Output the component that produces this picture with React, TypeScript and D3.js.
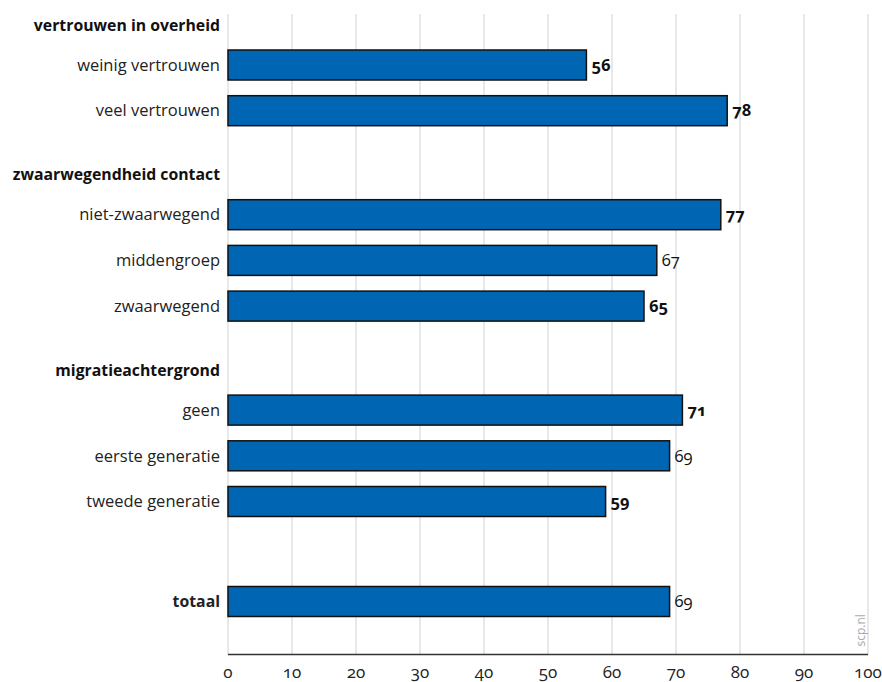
import React from "react";
import * as d3 from "d3";

const groupHeaders = ["vertrouwen in overheid", "zwaarwegendheid contact", "migratieachtergrond"];
const groupItems = [
  ["weinig vertrouwen", "veel vertrouwen"],
  ["niet-zwaarwegend", "middengroep", "zwaarwegend"],
  ["geen", "eerste generatie", "tweede generatie"],
];
const groupValues = [
  [56, 78],
  [77, 67, 65],
  [71, 69, 59],
];
const groupBold = [
  [true, true],
  [true, false, true],
  [true, false, true],
];
const totalLabel = "totaal";
const totalValue = 69;
const totalBold = false;
const xTicks = [0, 10, 20, 30, 40, 50, 60, 70, 80, 90, 100];

type Row = { kind: "header" | "bar"; label: string; value?: number; bold?: boolean; strong?: boolean; y: number };

export default function App() {
  const W = 882, H = 682;
  const left = 228, right = 868, top = 14;
  const x = d3.scaleLinear().domain([0, 100]).range([left, right]);

  const pitch = 45.7;
  const barH = 30;
  const rows: Row[] = [];
  let lastBar = 0;
  groupHeaders.forEach((h, gi) => {
    const hy = gi === 0 ? top + 11 : lastBar + 64;
    rows.push({ kind: "header", label: h, y: hy });
    let by = hy + 40;
    groupItems[gi].forEach((lab, i) => {
      rows.push({ kind: "bar", label: lab, value: groupValues[gi][i], bold: groupBold[gi][i], y: by });
      lastBar = by;
      by += pitch;
    });
  });
  const totalY = lastBar + 100;
  rows.push({ kind: "bar", label: totalLabel, value: totalValue, bold: totalBold, strong: true, y: totalY });
  const axisY = totalY + 53;

  const font = "'Open Sans', 'Noto Sans', sans-serif";
  const numStyle: React.CSSProperties = { fontVariantNumeric: "oldstyle-nums", fontFeatureSettings: "'onum' 1" };

  return (
    <svg width={W} height={H} style={{ position: "absolute", left: 0, top: 0, fontFamily: font }}>
      <rect width={W} height={H} fill="#fff" />
      {xTicks.map((t) => (
        <line key={t} x1={x(t)} x2={x(t)} y1={top} y2={axisY} stroke="#e0e0e0" strokeWidth={1.5} />
      ))}
      <line x1={left} x2={right} y1={axisY} y2={axisY} stroke="#333" strokeWidth={1.5} />
      {xTicks.map((t) => (
        <text key={"t" + t} x={x(t)} y={axisY + 23} textAnchor="middle" fontSize={17} fill="#222" style={numStyle}>
          {t}
        </text>
      ))}
      {rows.map((r, i) =>
        r.kind === "header" ? (
          <text key={i} x={220} y={r.y} dy="0.35em" textAnchor="end" fontSize={15.8} fontWeight="bold" fill="#111">
            {r.label}
          </text>
        ) : (
          <g key={i}>
            <text x={220} y={r.y} dy="0.35em" textAnchor="end" fontSize={r.strong ? 15.8 : 16.5} fontWeight={r.strong ? "bold" : "normal"} fill="#222">
              {r.label}
            </text>
            <rect x={x(0)} y={r.y - barH / 2} width={x(r.value!) - x(0)} height={barH} fill="#0066b3" stroke="#111" strokeWidth={1.5} />
            <text x={x(r.value!) + 5} y={r.y} dy="0.35em" fontSize={16.5} fontWeight={r.bold ? "bold" : "normal"} fill="#111" style={numStyle}>
              {r.value}
            </text>
          </g>
        )
      )}
      <text transform={`translate(861, ${axisY - 8}) rotate(-90)`} fontSize={12} fill="#aaa" dy="0.35em">
        scp.nl
      </text>
    </svg>
  );
}
